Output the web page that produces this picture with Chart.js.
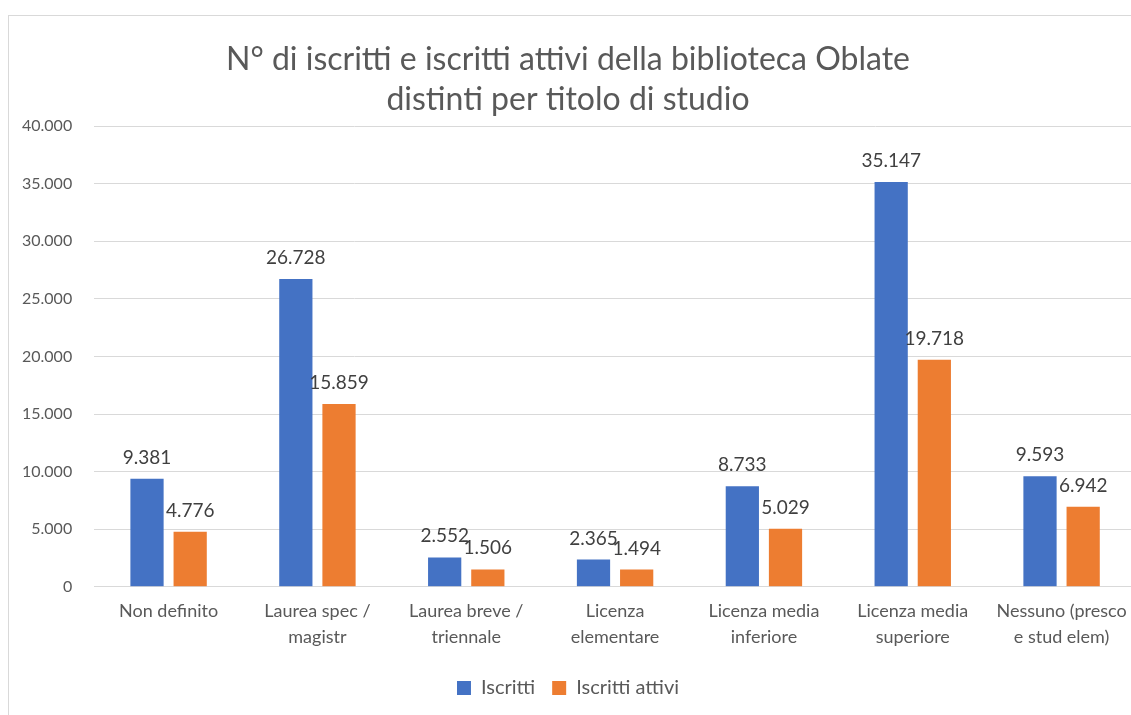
<!DOCTYPE html>
<html>
<head>
<meta charset="utf-8">
<script src="https://cdn.jsdelivr.net/npm/chart.js@4/dist/chart.umd.min.js"></script>
<style>
  html, body { margin: 0; padding: 0; background: #fff; overflow: hidden; }
  #wrap { position: absolute; left: 0; top: 0; width: 1150px; height: 715px; }
</style>
</head>
<body>
<div id="wrap"><canvas id="chart"></canvas></div>
<script>
const categories = [
  ["Non definito"],
  ["Laurea spec /", "magistr"],
  ["Laurea breve /", "triennale"],
  ["Licenza", "elementare"],
  ["Licenza media", "inferiore"],
  ["Licenza media", "superiore"],
  ["Nessuno (presco", "e stud elem)"]
];
const iscritti = [9381, 26728, 2552, 2365, 8733, 35147, 9593];
const iscrittiAttivi = [4776, 15859, 1506, 1494, 5029, 19718, 6942];
const titleLines = ["N° di iscritti e iscritti attivi della biblioteca Oblate", "distinti per titolo di studio"];

const FONT = "Lato, 'Open Sans', sans-serif";

function fmt(v) {
  return String(Math.round(v)).replace(/\B(?=(\d{3})+(?!\d))/g, ".");
}

// light frame around the chart
const framePlugin = {
  id: "frame",
  beforeDraw(chart) {
    const ctx = chart.ctx;
    ctx.save();
    ctx.strokeStyle = "#d9d9d9";
    ctx.lineWidth = 1;
    ctx.strokeRect(8.5, 15.5, 3000, 3000);
    ctx.restore();
  }
};

// value labels above each bar
const labelPlugin = {
  id: "barLabels",
  afterDatasetsDraw(chart) {
    const ctx = chart.ctx;
    ctx.save();
    ctx.font = "19px " + FONT;
    ctx.fillStyle = "#404040";
    ctx.textAlign = "center";
    ctx.textBaseline = "alphabetic";
    chart.data.datasets.forEach((ds, i) => {
      chart.getDatasetMeta(i).data.forEach((bar, j) => {
        ctx.fillText(fmt(ds.data[j]), bar.x, bar.y - 15);
      });
    });
    ctx.restore();
  }
};

new Chart(document.getElementById("chart"), {
  type: "bar",
  data: {
    labels: categories,
    datasets: [
      {
        label: "Iscritti",
        data: iscritti,
        backgroundColor: "#4472C4",
        barPercentage: 0.77,
        categoryPercentage: 0.58
      },
      {
        label: "Iscritti attivi",
        data: iscrittiAttivi,
        backgroundColor: "#ED7D31",
        barPercentage: 0.77,
        categoryPercentage: 0.58
      }
    ]
  },
  options: {
    responsive: true,
    maintainAspectRatio: false,
    animation: false,
    layout: { padding: { left: 0, right: 14, top: 40, bottom: 7 } },
    plugins: {
      title: {
        display: true,
        text: titleLines,
        color: "#595959",
        font: { family: FONT, size: 32, weight: "normal", lineHeight: 1.25 },
        padding: { top: 0, bottom: 6 }
      },
      legend: {
        position: "bottom",
        labels: {
          color: "#595959",
          font: { family: FONT, size: 20 },
          boxWidth: 14,
          boxHeight: 14,
          padding: 17
        }
      },
      tooltip: { enabled: false }
    },
    scales: {
      x: {
        grid: { display: false, drawTicks: false },
        border: { color: "#d9d9d9" },
        ticks: {
          color: "#595959",
          font: { family: FONT, size: 18, lineHeight: 1.45 },
          padding: 11,
          maxRotation: 0
        }
      },
      y: {
        min: 0,
        max: 40000,
        grid: { color: "#d9d9d9", drawTicks: false },
        border: { display: false },
        ticks: {
          stepSize: 5000,
          color: "#595959",
          font: { family: FONT, size: 16 },
          padding: 22,
          callback: (v) => fmt(v)
        }
      }
    }
  },
  plugins: [framePlugin, labelPlugin]
});
</script>
</body>
</html>
